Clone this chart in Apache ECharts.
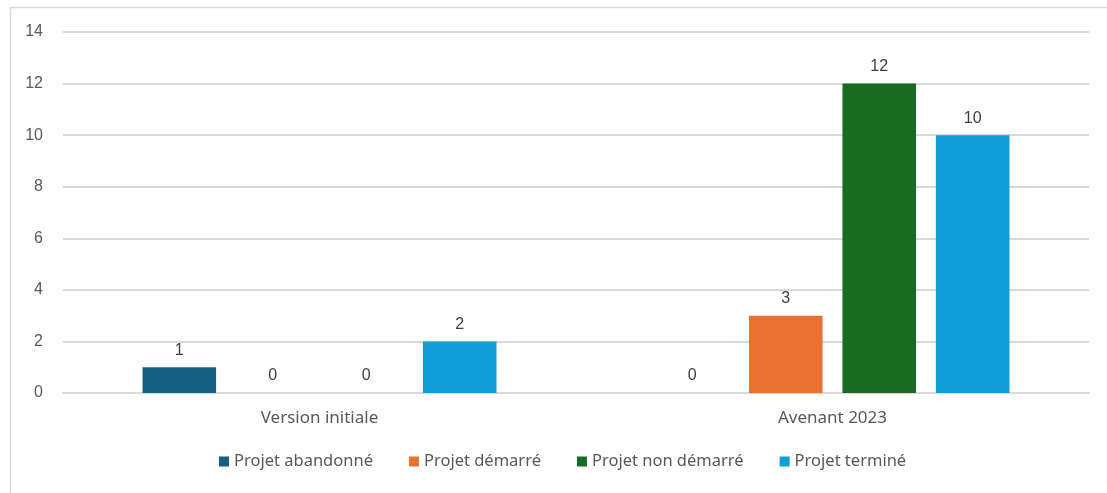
<!DOCTYPE html>
<html>
<head>
<meta charset="utf-8">
<script src="https://cdn.jsdelivr.net/npm/echarts@6/dist/echarts.min.js"></script>
<style>
  html, body { margin: 0; padding: 0; background: #ffffff; }
  #chart { width: 1107px; height: 493px; }
</style>
</head>
<body>
<div id="chart"></div>
<script>
// données du graphique
var categories = ['Version initiale', 'Avenant 2023']
var seriesNames = ['Projet abandonné', 'Projet démarré', 'Projet non démarré', 'Projet terminé']
var abandonne = [1, 0]
var demarre = [0, 3]
var nonDemarre = [0, 12]
var termine = [2, 10]
var yTicks = [0, 2, 4, 6, 8, 10, 12, 14]

var colors = ['#156082', '#E97132', '#196B24', '#0F9ED5']
var values = [abandonne, demarre, nonDemarre, termine]

var chartDom = document.getElementById('chart')
var myChart = echarts.init(chartDom)

var series = seriesNames.map(function (name, i) {
  return {
    name: name,
    type: 'bar',
    data: values[i],
    barGap: '27%',
    barCategoryGap: '31%',
    itemStyle: { color: colors[i] },
    label: {
      show: true,
      position: 'top',
      distance: 9,
      color: '#404040',
      fontSize: 16,
      fontFamily: 'Liberation Sans'
    }
  }
})

var option = {
  animation: false,
  textStyle: { fontFamily: 'Noto Sans' },
  graphic: [
    {
      type: 'rect',
      shape: { x: 10.5, y: 7.5, width: 1110, height: 500 },
      style: { fill: 'none', stroke: '#d9d9d9', lineWidth: 1.5 }
    }
  ],
  grid: {
    left: 63,
    right: 18,
    top: 32,
    bottom: 100
  },
  legend: {
    bottom: 18,
    left: 214,
    itemWidth: 10,
    itemHeight: 10,
    itemGap: 36,
    icon: 'rect',
    textStyle: { color: '#595959', fontSize: 16.5, fontFamily: 'Noto Sans' },
    data: seriesNames
  },
  xAxis: {
    type: 'category',
    data: categories,
    axisTick: { show: false },
    axisLine: { lineStyle: { color: '#d9d9d9', width: 2 } },
    axisLabel: { color: '#595959', fontSize: 17, margin: 17, fontFamily: 'Noto Sans' }
  },
  yAxis: {
    type: 'value',
    min: yTicks[0],
    max: yTicks[yTicks.length - 1],
    interval: 2,
    axisLine: { show: false },
    axisTick: { show: false },
    splitLine: { lineStyle: { color: '#d9d9d9', width: 2 } },
    axisLabel: { color: '#595959', fontSize: 16, margin: 20, fontFamily: 'Liberation Sans' }
  },
  series: series
}

option && myChart.setOption(option)
</script>
</body>
</html>
